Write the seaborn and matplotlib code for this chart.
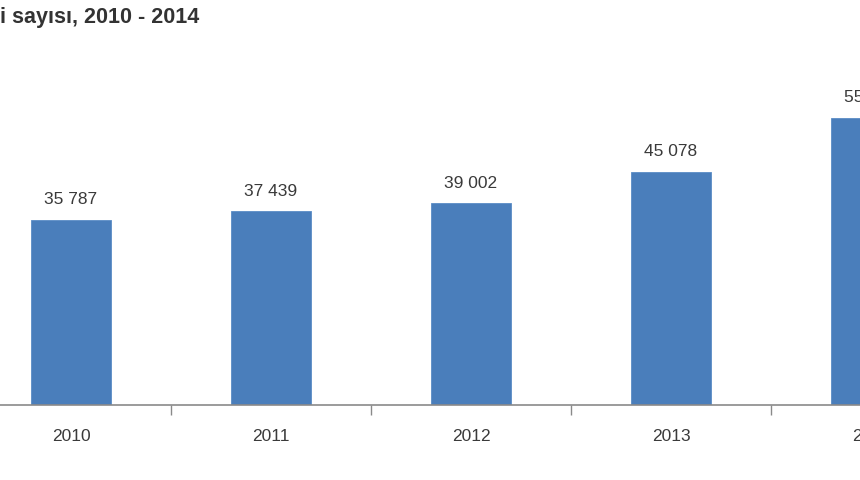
import matplotlib
matplotlib.use("Agg")
import matplotlib.pyplot as plt
import seaborn as sns
import pandas as pd

# data (last bar is cut off at the right edge)
years = ["2010", "2011", "2012", "2013", "2014"]
counts = [35787, 37439, 39002, 45078, 55536]
labels = ["35 787", "37 439", "39 002", "45 078", "55 536"]
title = "i sayısı, 2010 - 2014"

df = pd.DataFrame({"year": years, "count": counts})

sns.set_theme(style="white")
plt.rcParams["font.family"] = ["Liberation Sans", "DejaVu Sans"]

fig = plt.figure(figsize=(8.6, 4.8), dpi=100)
ax = fig.add_axes([0, 75 / 480, 1, 345 / 480])

sns.barplot(data=df, x="year", y="count", ax=ax, color="#4a7ebb",
            width=0.4, saturation=1, edgecolor="#5a8cc6", linewidth=0.6)

#value labels above bars
for i, (v, lab) in enumerate(zip(counts, labels)):
    ax.text(i, v + 2400, lab, ha="center", va="bottom", fontsize=12.5, color="#3a3a3a")

ax.set_xlabel("")
ax.set_ylabel("")
ax.set_yticks([])
for s in ["top", "right", "left"]:
    ax.spines[s].set_visible(False)
ax.spines["bottom"].set_color("#8a8a8a")
ax.spines["bottom"].set_linewidth(1.2)

#year labels drawn as annotations so the cut-off last one still shows
ax.set_xticks(range(len(years)))
ax.set_xticklabels([])
ax.set_xticks([i + 0.5 for i in range(len(years) - 1)], minor=True)
ax.tick_params(axis="x", which="major", bottom=True, length=0)
ax.tick_params(axis="x", which="minor", bottom=True, length=7, width=1,
               color="#8a8a8a", direction="out")
for i, y in enumerate(years):
    ax.annotate(y, xy=(i, 0), xycoords=("data", "axes fraction"),
                xytext=(0, -23), textcoords="offset points",
                ha="center", va="center", fontsize=12.5, color="#3a3a3a",
                annotation_clip=False)

#limits last so set_xticks doesn't widen them
ax.set_xlim(-0.355, 3.945)
ax.set_ylim(0, 66700)

fig.text(0.0, 1 - 18 / 480, title, ha="left", va="center", fontsize=15.5,
         fontweight="bold", color="#333333")

fig.savefig("out.png", dpi=100)
